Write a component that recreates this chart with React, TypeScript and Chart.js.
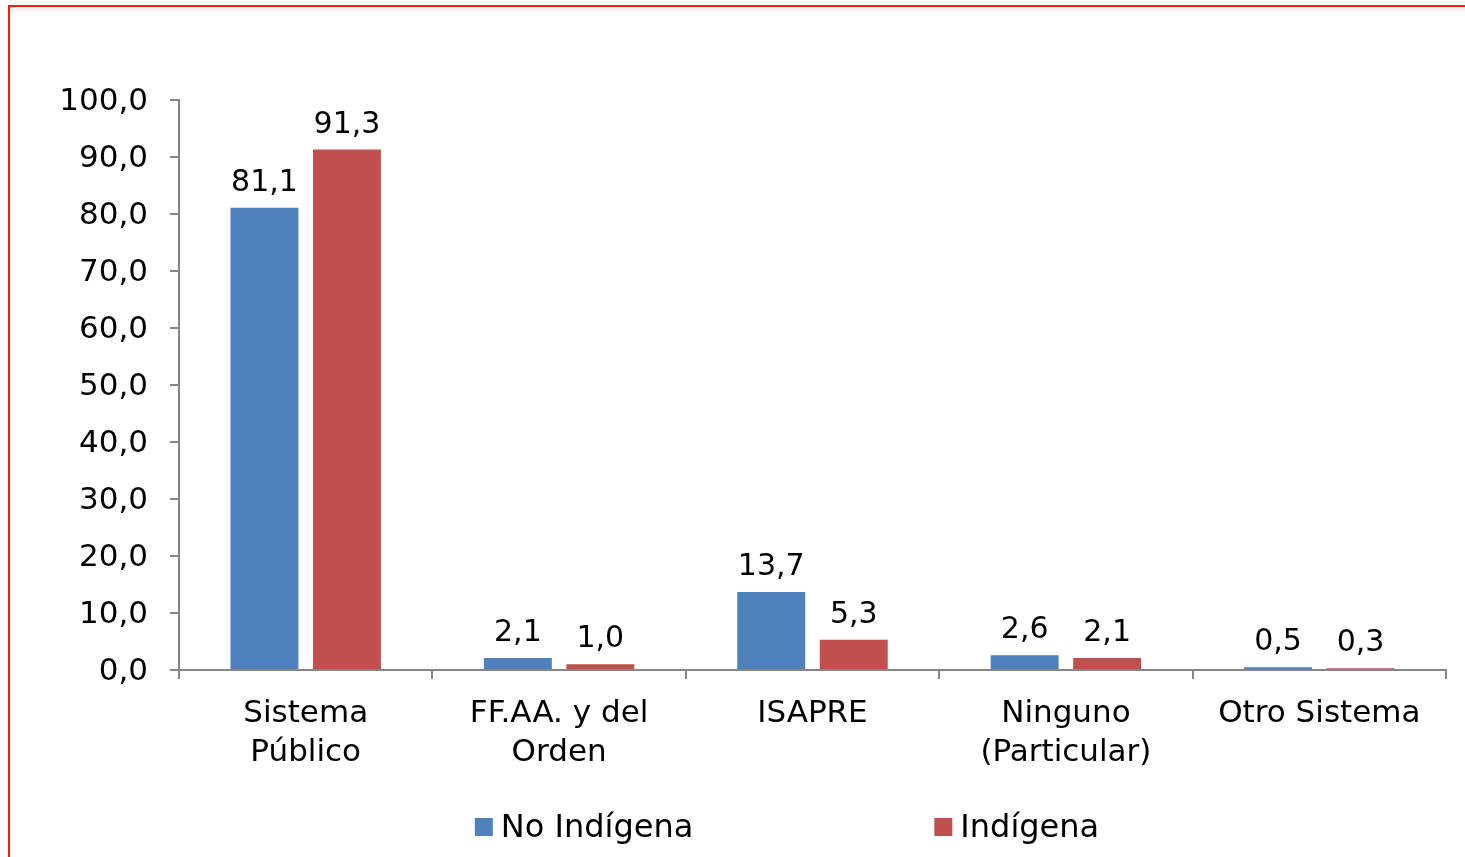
import React, { useEffect, useRef } from 'react';
import { Chart, registerables } from 'chart.js';

Chart.register(...registerables);

const categories: (string | string[])[] = [
  ['Sistema', 'Público'],
  ['FF.AA. y del', 'Orden'],
  'ISAPRE',
  ['Ninguno', '(Particular)'],
  'Otro Sistema',
];
const seriesNames = ['No Indígena', 'Indígena'];
const noIndigena = [81.1, 2.1, 13.7, 2.6, 0.5];
const indigena = [91.3, 1.0, 5.3, 2.1, 0.3];
const yTickMin = 0;
const yTickMax = 100;
const yTickStep = 10;

const BLUE = '#4F81BD';
const RED = '#C0504D';
const AXIS = '#868686';
const FONT = '"DejaVu Sans", Verdana, sans-serif';

const fmt = (v: number) => v.toFixed(1).replace('.', ',');

const valueLabels = {
  id: 'valueLabels',
  afterDatasetsDraw(chart: any) {
    const ctx = chart.ctx;
    ctx.save();
    ctx.font = `30px ${FONT}`;
    ctx.fillStyle = '#000';
    ctx.textAlign = 'center';
    ctx.textBaseline = 'alphabetic';
    chart.data.datasets.forEach((ds: any, i: number) => {
      const meta = chart.getDatasetMeta(i);
      meta.data.forEach((bar: any, j: number) => {
        ctx.fillText(fmt(ds.data[j]), bar.x, bar.y - 17);
      });
    });
    ctx.restore();
  },
};

const customLegend = {
  id: 'customLegend',
  afterDraw(chart: any) {
    const ctx = chart.ctx;
    ctx.save();
    ctx.font = `32px ${FONT}`;
    ctx.textBaseline = 'alphabetic';
    ctx.textAlign = 'left';
    const box = 18;
    const boxGap = 8;
    const itemGap = 241;
    const centerX = 787;
    const baseY = 837;
    const items = chart.data.datasets.map((ds: any) => ({
      label: ds.label,
      color: ds.backgroundColor,
      w: box + boxGap + ctx.measureText(ds.label).width,
    }));
    const total = items.reduce((s: number, it: any) => s + it.w, 0) + itemGap * (items.length - 1);
    let x = centerX - total / 2;
    items.forEach((it: any) => {
      ctx.fillStyle = it.color;
      ctx.fillRect(x, baseY - 19, box, box);
      ctx.fillStyle = '#000';
      ctx.fillText(it.label, x + box + boxGap, baseY);
      x += it.w + itemGap;
    });
    ctx.restore();
  },
};

export default function App() {
  const ref = useRef<HTMLCanvasElement | null>(null);

  useEffect(() => {
    if (!ref.current) return;
    const chart = new Chart(ref.current, {
      type: 'bar',
      data: {
        labels: categories,
        datasets: [
          {
            label: seriesNames[0],
            data: noIndigena,
            backgroundColor: BLUE,
            categoryPercentage: 0.651,
            barPercentage: 0.824,
          },
          {
            label: seriesNames[1],
            data: indigena,
            backgroundColor: RED,
            categoryPercentage: 0.651,
            barPercentage: 0.824,
          },
        ],
      },
      options: {
        responsive: false,
        animation: false,
        layout: { padding: { top: 100, right: 19, bottom: 0, left: 0 } },
        plugins: {
          legend: { display: false },
          tooltip: { enabled: false },
          title: { display: false },
        },
        scales: {
          x: {
            grid: {
              drawOnChartArea: false,
              drawTicks: true,
              tickLength: 9,
              color: AXIS,
              lineWidth: 2,
              offset: true,
            },
            border: { display: true, color: AXIS, width: 2 },
            ticks: {
              color: '#000',
              font: { family: FONT, size: 31, lineHeight: 1.26 },
              padding: 15,
              maxRotation: 0,
              autoSkip: false,
            },
            afterFit(scale: any) {
              scale.height = 187;
            },
          },
          y: {
            min: yTickMin,
            max: yTickMax,
            grid: {
              drawOnChartArea: false,
              drawTicks: true,
              tickLength: 9,
              color: AXIS,
              lineWidth: 2,
            },
            border: { display: true, color: AXIS, width: 2 },
            ticks: {
              stepSize: yTickStep,
              color: '#000',
              font: { family: FONT, size: 31 },
              padding: 22,
              labelOffset: 2,
              callback: (v: any) => fmt(Number(v)),
            },
            afterFit(scale: any) {
              scale.width = 179;
            },
          },
        },
      },
      plugins: [valueLabels, customLegend],
    });
    return () => chart.destroy();
  }, []);

  return (
    <div
      style={{
        position: 'fixed',
        left: 0,
        top: 0,
        width: 1465,
        height: 857,
        background: '#fff',
        overflow: 'hidden',
      }}
    >
      <div
        style={{
          position: 'absolute',
          left: 8,
          top: 5,
          width: 1600,
          height: 1000,
          border: '2px solid #ff1a1a',
          boxShadow: 'inset 3px 8px 10px -6px rgba(0,0,0,0.10)',
        }}
      />
      <canvas
        ref={ref}
        width={1465}
        height={857}
        style={{ position: 'absolute', left: 0, top: 0, width: 1465, height: 857 }}
      />
    </div>
  );
}
